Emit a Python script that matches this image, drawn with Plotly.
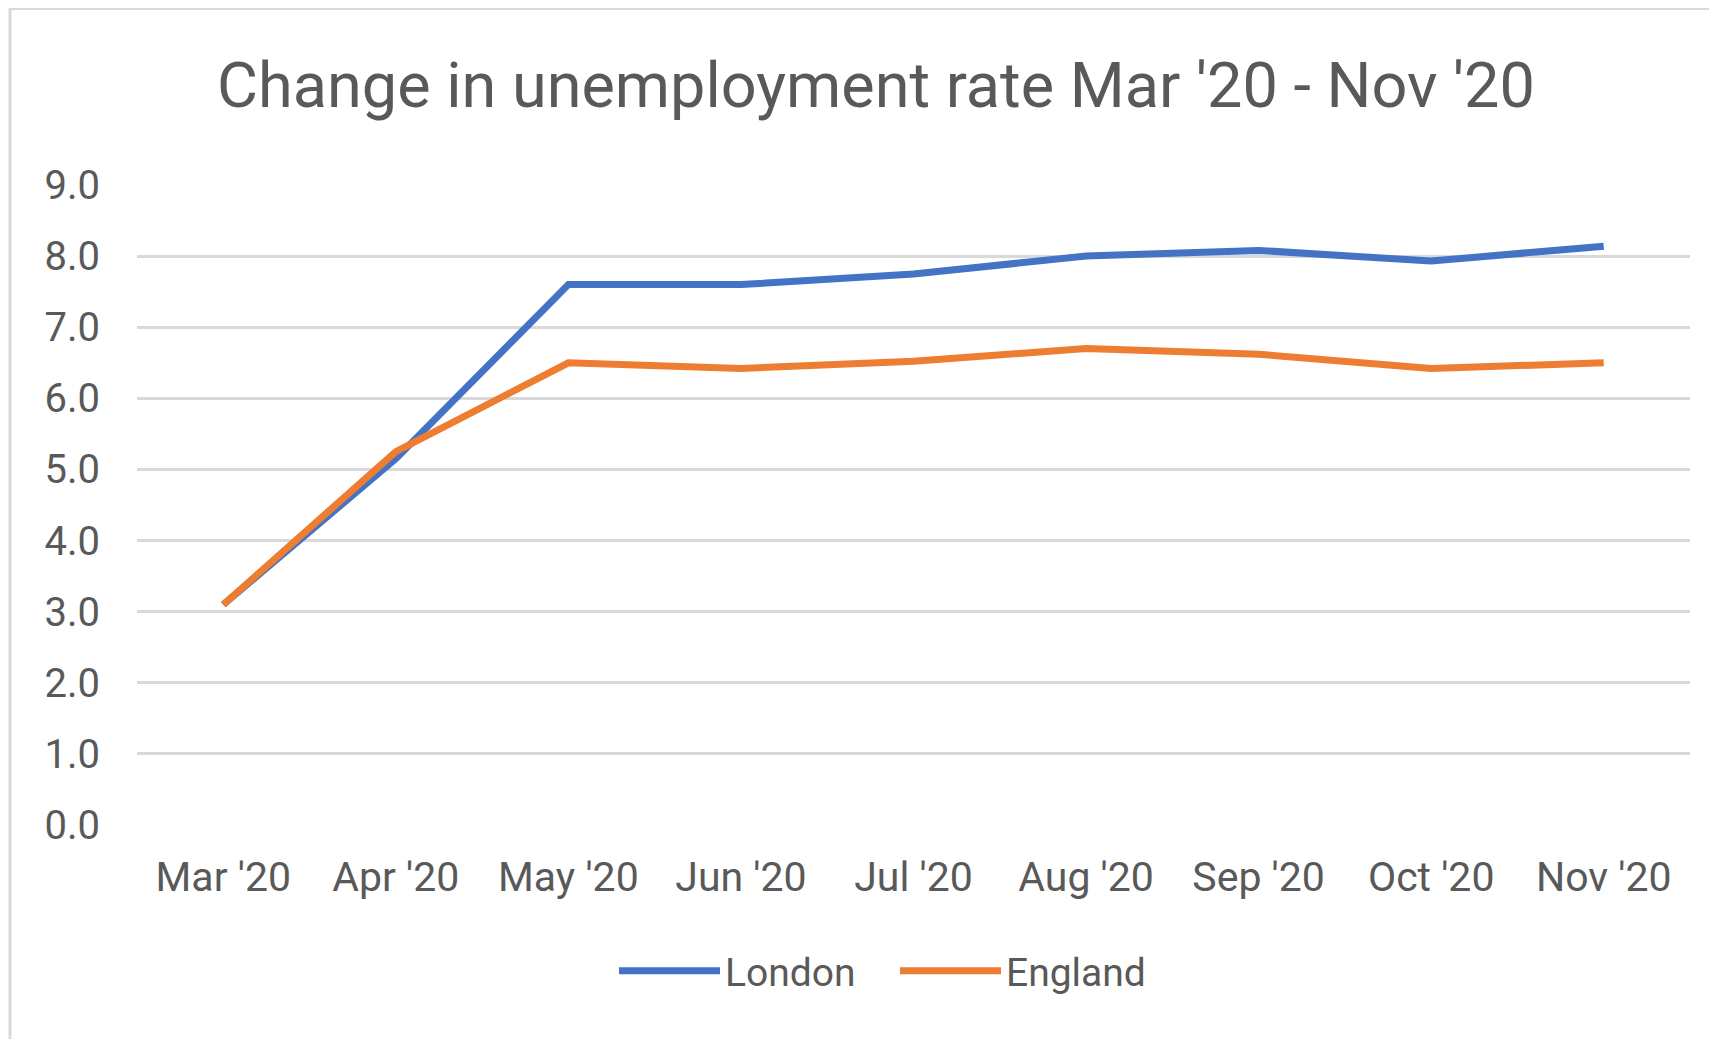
import plotly.graph_objects as go

months = ["Mar '20", "Apr '20", "May '20", "Jun '20", "Jul '20", "Aug '20", "Sep '20", "Oct '20", "Nov '20"]
london = [3.1, 5.15, 7.6, 7.6, 7.75, 8.0, 8.08, 7.93, 8.14]
england = [3.1, 5.25, 6.5, 6.42, 6.52, 6.7, 6.62, 6.42, 6.5]
y_ticks = [0, 1, 2, 3, 4, 5, 6, 7, 8, 9]
y_tick_labels = ["0.0", "1.0", "2.0", "3.0", "4.0", "5.0", "6.0", "7.0", "8.0", "9.0"]

TXT = "#595959"
FONT = "Roboto"

fig = go.Figure()
fig.add_trace(go.Scatter(x=months, y=london, name="London", mode="lines",
                         line=dict(color="#4472C4", width=7, shape="linear")))
fig.add_trace(go.Scatter(x=months, y=england, name="England", mode="lines",
                         line=dict(color="#ED7D31", width=7, shape="linear")))

W, H = 1717, 1039
ml, mr, mt, mb = 129, 35, 177, 222
pw = W - ml - mr
ph = H - mt - mb


def px_x(p):
    return (p - ml) / pw


def px_y(p):
    return 1 - (p - mt) / ph


fig.update_layout(
    width=W, height=H,
    margin=dict(l=ml, r=mr, t=mt, b=mb),
    paper_bgcolor="white", plot_bgcolor="white",
    font=dict(family=FONT, color=TXT, size=39),
    title=dict(text="Change in unemployment rate Mar '20 - Nov '20",
               x=0.5055, xanchor="center", y=1 - 77 / H, yanchor="middle",
               font=dict(family=FONT, size=63, color=TXT)),
    xaxis=dict(range=[-0.5, 8.5], showgrid=False, zeroline=False, showline=False,
               ticks="", tickfont=dict(size=41, color=TXT), ticklabelstandoff=24),
    yaxis=dict(range=[0, 9], tickvals=y_ticks, ticktext=y_tick_labels,
               showgrid=True, gridcolor="#D9D9D9", gridwidth=3, zeroline=False,
               showline=False, ticks="", tickfont=dict(size=40, color=TXT),
               ticklabelstandoff=36),
    showlegend=True,
    legend=dict(orientation="h", x=px_x(606), xanchor="left", y=px_y(963),
                yanchor="middle", font=dict(size=39, color=TXT),
                itemwidth=101, entrywidth=165, bgcolor="rgba(0,0,0,0)"),
)

# light gray chart-area border (right and bottom edges fall outside the picture)
fig.add_shape(type="rect", xref="paper", yref="paper",
              x0=px_x(2), x1=px_x(W + 20), y0=px_y(H + 20), y1=px_y(0.5),
              line=dict(color="#D9D9D9", width=3), layer="below")

fig.write_html("out.html")
